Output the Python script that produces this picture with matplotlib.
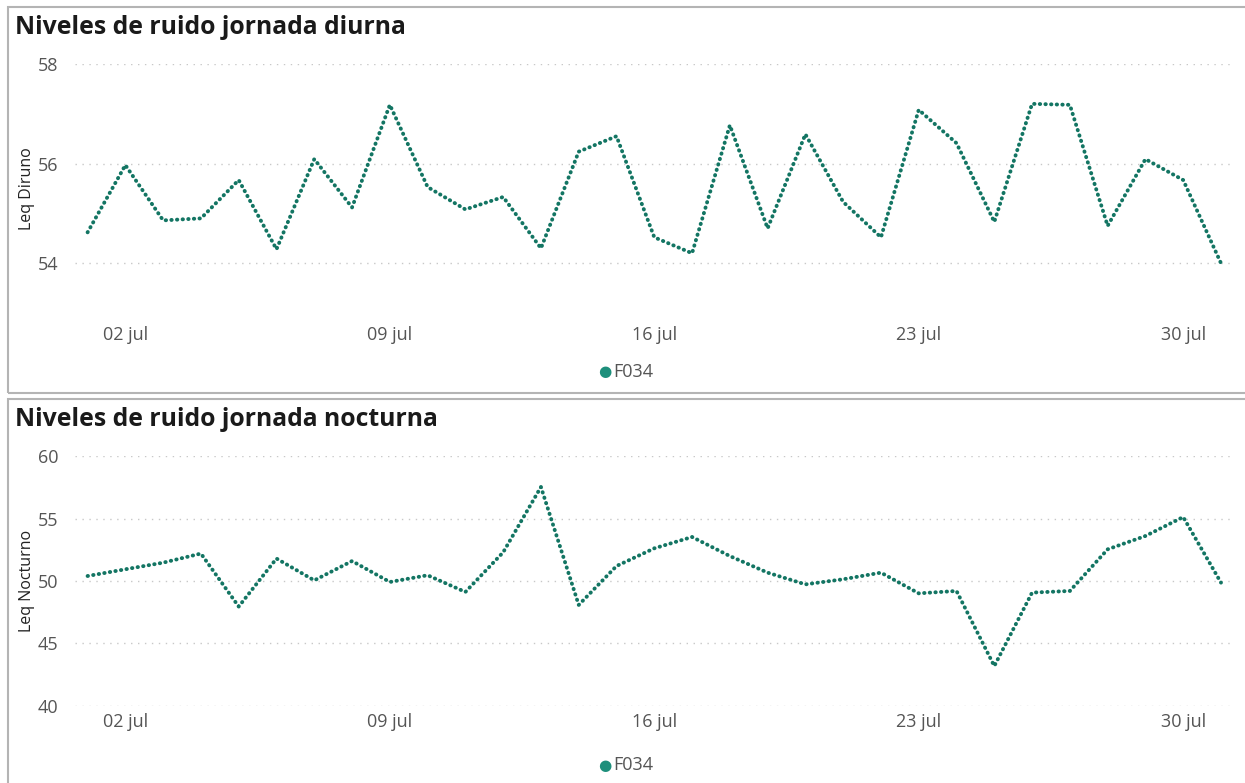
import matplotlib.pyplot as plt
import pandas as pd
from matplotlib.patches import Rectangle

# Days of July
dates = pd.date_range('2023-07-01', '2023-07-31', freq='D')

leq_diurno = [54.62, 55.97, 54.86, 54.90, 55.67, 54.28, 56.09, 55.12, 57.18, 55.53,
              55.08, 55.33, 54.30, 56.24, 56.55, 54.52, 54.20, 56.77, 54.70, 56.59,
              55.23, 54.52, 57.08, 56.41, 54.83, 57.20, 57.18, 54.75, 56.09, 55.67,
              54.00]

leq_nocturno = [50.40, 50.94, 51.47, 52.20, 47.95, 51.80, 50.05, 51.60, 49.92, 50.46,
                49.12, 52.30, 57.54, 48.08, 51.20, 52.62, 53.53, 52.00, 50.67, 49.73,
                50.14, 50.67, 49.01, 49.20, 43.18, 49.07, 49.20, 52.54, 53.61, 55.13,
                49.87]

tick_dates = pd.to_datetime(['2023-07-02', '2023-07-09', '2023-07-16', '2023-07-23', '2023-07-30'])
tick_labels = ['02 jul', '09 jul', '16 jul', '23 jul', '30 jul']

line_color = '#137563'
dot_color = '#1d8f7b'
grid_color = '#c8c8c8'
text_color = '#555555'

plt.rcParams['font.family'] = ['Open Sans', 'DejaVu Sans']

W, H = 1245, 783
fig = plt.figure(figsize=(W / 100, H / 100), dpi=100)
fig.patch.set_facecolor('white')


def px_box(left, top, right, bottom):
    return [left / W, 1 - bottom / H, (right - left) / W, (bottom - top) / H]


# panel frames
fig.add_artist(Rectangle((8 / W, 1 - 393 / H), 1.2, 386 / H, transform=fig.transFigure,
                         fill=False, edgecolor='#b4b4b4', linewidth=1.5))
fig.add_artist(Rectangle((8 / W, -0.1), 1.2, 0.1 + (783 - 399) / H, transform=fig.transFigure,
                         fill=False, edgecolor='#b4b4b4', linewidth=1.5))

x0 = dates[0] - pd.Timedelta(hours=8)
x1 = dates[-1] + pd.Timedelta(hours=7)

panels = [
    dict(title='Niveles de ruido jornada diurna', ylabel='Leq Diruno', data=leq_diurno,
         box=px_box(75, 64, 1232, 313), ylim=(53, 58), yticks=[54, 56, 58],
         title_y=28, legend_y=372, pad=9),
    dict(title='Niveles de ruido jornada nocturna', ylabel='Leq Nocturno', data=leq_nocturno,
         box=px_box(75, 456.3, 1232, 705.7), ylim=(40, 60), yticks=[40, 45, 50, 55, 60],
         title_y=420, legend_y=765, pad=5),
]

for p in panels:
    ax = fig.add_axes(p['box'])
    ax.plot(dates, p['data'], color=line_color, linewidth=2.8, linestyle=(0, (0.1, 1.35)),
            dash_capstyle='round')
    ax.set_xlim(x0, x1)
    ax.set_ylim(*p['ylim'])
    ax.set_yticks(p['yticks'])
    ax.set_yticklabels([str(v) for v in p['yticks']])
    ax.set_xticks(tick_dates)
    ax.set_xticklabels(tick_labels)
    for s in ax.spines.values():
        s.set_visible(False)
    ax.tick_params(axis='both', length=0, labelsize=13, colors=text_color)
    ax.tick_params(axis='x', pad=p['pad'])
    ax.tick_params(axis='y', pad=12)
    ax.yaxis.grid(True, color=grid_color, linestyle=(0, (1, 4)), linewidth=1)
    ax.set_axisbelow(True)
    ax.set_facecolor('none')

    fig.text(15 / W, 1 - p['title_y'] / H, p['title'], fontsize=17.8, fontweight='bold',
             color='#1a1a1a', va='center', ha='left')
    ax.set_ylabel(p['ylabel'], fontsize=11.5, color='#222222')
    ax.yaxis.set_label_coords(-(75 - 35) / 1157, 0.5)

    # legend
    fig.text(605 / W, 1 - p['legend_y'] / H, '\u25CF', fontsize=11, color=dot_color,
             va='center', ha='center', family='DejaVu Sans')
    fig.text(613 / W, 1 - p['legend_y'] / H, 'F034', fontsize=13, color=text_color,
             va='center', ha='left')

fig.savefig('out.png', dpi=100)
